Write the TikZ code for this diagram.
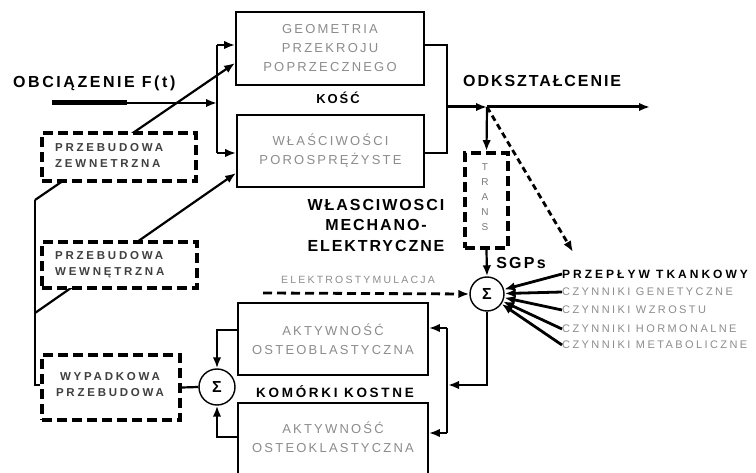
\documentclass[tikz,border=0pt]{standalone}
\usepackage{fontspec}
\setmainfont{Liberation Sans}
\usetikzlibrary{arrows.meta}
\newcommand{\lsp}[1]{\addfontfeatures{LetterSpace=#1}}
\definecolor{gt}{HTML}{8C8C8C}
\definecolor{dt}{HTML}{404040}
\definecolor{tt}{HTML}{7A7A7A}
\begin{document}
\begin{tikzpicture}[x=1pt,y=-1pt,
  arr/.style={-{Latex[length=11pt,width=8.5pt]}, line width=2.2pt},
  conn/.style={line width=2.2pt},
  sbox/.style={draw, line width=1.8pt, inner sep=0pt, fill=white},
  dbox/.style={draw, line width=3.8pt, dash pattern=on 10pt off 5pt, inner sep=0pt, fill=white},
  gtext/.style={text=gt, font=\fontsize{13}{19}\selectfont\lsp{17}, align=center},
  dtext/.style={text=dt, font=\bfseries\fontsize{11.5}{16}\selectfont\lsp{24}, inner sep=0pt},
  btext/.style={font=\bfseries\fontsize{16}{20.5}\selectfont\lsp{12}, inner sep=0pt},
  ftext/.style={text=gt, font=\fontsize{11}{13}\selectfont\lsp{22}, inner sep=0pt, anchor=west},
  sig/.style={circle, draw, line width=1.4pt, minimum size=34pt, inner sep=0pt, fill=white, font=\bfseries\fontsize{16}{16}\selectfont},
]
\path[use as bounding box] (0,0) rectangle (756,473);
\clip (0,0) rectangle (756,473);

% bone boxes
\node[sbox, minimum width=188pt, minimum height=73pt, gtext] (geo) at (330,48.5) {GEOMETRIA\\PRZEKROJU\\POPRZECZNEGO};
\node[sbox, minimum width=187pt, minimum height=72pt, gtext] (wla) at (330.5,151) {WŁAŚCIWOŚCI\\POROSPRĘŻYSTE};
\node[font=\bfseries\fontsize{13}{13}\selectfont\lsp{15}, inner sep=0pt] (kosc) at (338,98) {KOŚĆ};

% load
\node[btext, anchor=west, font=\bfseries\fontsize{16}{16}\selectfont\lsp{16}] (obc) at (13,83) {OBCIĄZENIE F(t)};
\coordinate (ls) at (52,103);
\coordinate (lm) at (127,103);
\coordinate (lsplit) at (217,103);
\coordinate (ltop) at (217,45);
\coordinate (lbot) at (217,153);
\draw[line width=5pt] (ls) -- (lm);
\draw[arr] (lm) -- (lsplit);
\draw[conn] (ltop) -- (lbot);
\draw[arr] (ltop) -- (geo.west |- ltop);
\draw[arr] (lbot) -- (wla.west |- lbot);

% left remodelling lines
\coordinate (v1) at (35,200);
\coordinate (v2) at (35,313);
\coordinate (vb) at (35,385);
\draw[arr] (v1) -- (geo.west |- 0,63);
\draw[arr] (v2) -- (wla.west |- 0,173);

% dashed boxes
\node[dbox, minimum width=154pt, minimum height=48pt] (zew) at (119,157) {};
\node[dtext, anchor=west, align=left] (zewt) at (55,155) {PRZEBUDOWA\\ZEWNETRZNA};
\node[dbox, minimum width=155pt, minimum height=46pt] (wew) at (119.5,265) {};
\node[dtext, anchor=west, align=left] (wewt) at (55,264.5) {PRZEBUDOWA\\WEWNĘTRZNA};
\node[dbox, minimum width=138pt, minimum height=65pt] (wyp) at (111,387.5) {};
\node[dtext, align=center] (wypt) at (110,385) {WYPADKOWA\\PRZEBUDOWA};
\draw[line width=1.6pt] (wyp.west |- vb) -- (vb) -- (v1);

% output of bone
\coordinate (bt) at (447,45);
\coordinate (bb) at (447,153);
\coordinate (bm) at (447,107);
\coordinate (jn) at (487,107);
\coordinate (oend) at (650,107);
\coordinate (dend) at (573,252);
\draw[conn] (geo.east |- bt) -- (bt) -- (bb) -- (wla.east |- bb);
\draw[arr, line width=3pt] (bm) -- (jn);
\draw[arr, line width=3pt] (jn) -- (oend);
\node[btext, anchor=west] (odk) at (463,81) {ODKSZTAŁCENIE};

% trans
\node[dbox, minimum width=43pt, minimum height=95pt] (trans) at (486.5,200.5) {};
\node[text=tt, font=\fontsize{10}{15}\selectfont, align=center, inner sep=0pt] (transt) at (485,197) {T\\R\\A\\N\\S};
\draw[arr] (jn) -- (trans.north);
\draw[arr, line width=2.8pt, dash pattern=on 6pt off 4pt] (jn) -- (dend);
\node[btext, align=center] (mech) at (376,225) {WŁASCIWOSCI\\MECHANO-\\ELEKTRYCZNE};

% summation 1
\node[sig] (s1) at (487,294) {Σ};
\draw[arr] (trans.south) -- (s1.north);
\node[btext, font=\bfseries\fontsize{16}{16}\selectfont\lsp{14}] (sgp) at (521,263) {SGPs};
\node[font=\bfseries\fontsize{12}{12}\selectfont\lsp{25}, inner sep=0pt, anchor=west] (tprz) at (562,274) {PRZEPŁYW TKANKOWY};
\node[ftext] (tgen) at (562,292) {CZYNNIKI GENETYCZNE};
\node[ftext] (twzr) at (562,310) {CZYNNIKI WZROSTU};
\node[ftext] (thor) at (562,329) {CZYNNIKI HORMONALNE};
\node[ftext] (tmet) at (562,345) {CZYNNIKI METABOLICZNE};
\draw[arr, line width=2.8pt] (tprz.west) -- (s1);
\draw[arr, line width=2.8pt] (tgen.west) -- (s1);
\draw[arr, line width=2.8pt] (twzr.west) -- (s1);
\draw[arr, line width=2.8pt] (thor.west) -- (s1);
\draw[arr, line width=2.8pt] (tmet.west) -- (s1);

% electrostimulation
\coordinate (estart) at (263,293);
\node[ftext, anchor=center, font=\fontsize{10.5}{12}\selectfont\lsp{21}] (elek) at (358,280) {ELEKTROSTYMULACJA};
\draw[arr, line width=2.8pt, dash pattern=on 9pt off 5pt] (estart) -- (s1.west);

% cells
\node[sbox, minimum width=190pt, minimum height=72pt, gtext] (ob) at (333,339) {AKTYWNOŚĆ\\OSTEOBLASTYCZNA};
\node[sbox, minimum width=190pt, minimum height=80pt] (ok) at (333,443) {};
\node[gtext, inner sep=0pt] (okt) at (333,437.5) {AKTYWNOŚĆ\\OSTEOKLASTYCZNA};
\node[font=\bfseries\fontsize{13.5}{13.5}\selectfont\lsp{20}, inner sep=0pt] (kom) at (335,392) {KOMÓRKI KOSTNE};

\coordinate (sd) at (487,385);
\coordinate (kv) at (448,385);
\coordinate (kt) at (447,328);
\coordinate (kb) at (447,433);
\draw[arr] (s1.south) -- (sd) -- (kv);
\draw[conn] (kt) -- (kb);
\draw[arr] (kt) -- (ob.east |- kt);
\draw[arr] (kb) -- (ok.east |- kb);

% summation 2
\node[sig, minimum size=36pt] (s2) at (217,387) {Σ};
\coordinate (ct) at (217,330);
\coordinate (cb) at (217,437);
\draw[arr] (ob.west |- ct) -- (ct) -- (s2.north);
\draw[arr] (ok.west |- cb) -- (cb) -- (s2.south);
\draw[conn] (s2.west) -- (wyp.east);
\end{tikzpicture}
\end{document}
